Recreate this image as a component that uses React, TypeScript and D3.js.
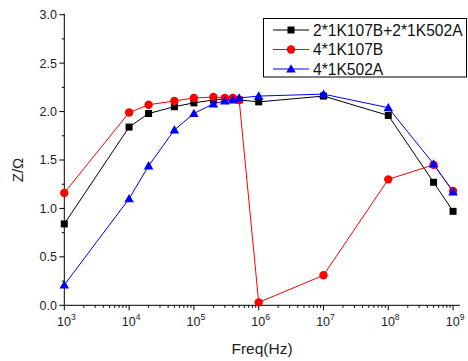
import React from 'react';
import * as d3 from 'd3';

// Frequencies (Hz) shared by all three series
const freqs = [1e3, 1e4, 2e4, 5e4, 1e5, 2e5, 3e5, 4e5, 5e5, 1e6, 1e7, 1e8, 5e8, 1e9];

// Z/Ω values per series
const mixedVals = [0.84, 1.84, 1.98, 2.05, 2.09, 2.12, 2.13, 2.13, 2.12, 2.10, 2.16, 1.96, 1.27, 0.97];
const k107bVals = [1.16, 1.99, 2.07, 2.11, 2.14, 2.15, 2.14, 2.14, 2.12, 0.03, 0.31, 1.30, 1.45, 1.18];
const k502aVals = [0.21, 1.10, 1.44, 1.81, 1.98, 2.08, 2.11, 2.12, 2.14, 2.16, 2.18, 2.04, 1.46, 1.17];

const seriesNames = ['2*1K107B+2*1K502A', '4*1K107B', '4*1K502A'];
const seriesColors = ['#000000', '#ff0000', '#0000ff'];
const seriesShapes = ['square', 'circle', 'triangle'];

const yTicks = [0, 0.5, 1.0, 1.5, 2.0, 2.5, 3.0];
const xExponents = [3, 4, 5, 6, 7, 8, 9];

const W = 468;
const H = 361;
const FONT = '"Liberation Sans", Arial, sans-serif';

const Marker = ({ shape, x, y, color }: { shape: string; x: number; y: number; color: string }) => {
  if (shape === 'square') return <rect x={x - 3.5} y={y - 3.5} width={7} height={7} fill={color} />;
  if (shape === 'circle') return <circle cx={x} cy={y} r={4.2} fill={color} />;
  const tri = d3.symbol().type(d3.symbolTriangle).size(40)();
  return <path d={tri || ''} transform={`translate(${x},${y + 0.8})`} fill={color} />;
};

export default function App() {
  const x = d3.scaleLog().domain([1e3, Math.pow(10, 9.107)]).range([64.3, 460]);
  const y = d3.scaleLinear().domain([0, 3]).range([305.3, 14.7]);

  const series = [mixedVals, k107bVals, k502aVals];
  const line = d3.line<number>()
    .x((_, i) => x(freqs[i]))
    .y(d => y(d));

  const minorX: number[] = [];
  for (let e = 3; e < 9; e++) {
    for (let m = 2; m <= 9; m++) minorX.push(m * Math.pow(10, e));
  }
  const minorY = d3.range(0.25, 3, 0.5);

  const axisY = y(0);
  const axisX = x(1e3);

  return (
    <svg width={W} height={H} style={{ position: 'absolute', left: 0, top: 0, background: '#fff' }} fontFamily={FONT}>
      {/* axes */}
      <line x1={axisX} x2={axisX} y1={y(3) - 1} y2={axisY} stroke="#000" strokeWidth={1} />
      <line x1={axisX} x2={460} y1={axisY} y2={axisY} stroke="#000" strokeWidth={1} />

      {yTicks.map(t => (
        <g key={'y' + t}>
          <line x1={axisX - 5} x2={axisX} y1={y(t)} y2={y(t)} stroke="#000" />
          <text x={57} y={y(t)} dy="0.35em" textAnchor="end" fontSize={12.5} fill="#222">{t.toFixed(1)}</text>
        </g>
      ))}
      {minorY.map(t => (
        <line key={'my' + t} x1={axisX - 2.5} x2={axisX} y1={y(t)} y2={y(t)} stroke="#000" />
      ))}

      {xExponents.map(e => {
        const px = x(Math.pow(10, e));
        return (
          <g key={'x' + e}>
            <line x1={px} x2={px} y1={axisY} y2={axisY + 5} stroke="#000" />
            <text x={px + 2} y={326} textAnchor="middle" fontSize={12.5} fill="#222">
              10<tspan fontSize={8.5} dy={-6}>{e}</tspan>
            </text>
          </g>
        );
      })}
      {minorX.map(v => (
        <line key={'mx' + v} x1={x(v)} x2={x(v)} y1={axisY} y2={axisY + 2.5} stroke="#000" />
      ))}

      {/* axis titles */}
      <text x={262} y={354} textAnchor="middle" fontSize={15.5} fill="#222">Freq(Hz)</text>
      <text transform={`translate(23,170) rotate(-90)`} textAnchor="middle" fontSize={15} fill="#222">Z/Ω</text>

      {/* series */}
      {series.map((vals, si) => (
        <g key={'s' + si}>
          <path d={line(vals) || ''} fill="none" stroke={seriesColors[si]} strokeWidth={1} />
          {vals.map((v, i) => (
            <Marker key={i} shape={seriesShapes[si]} x={x(freqs[i])} y={y(v)} color={seriesColors[si]} />
          ))}
        </g>
      ))}

      {/* legend */}
      <rect x={263.5} y={18.5} width={203} height={58.5} fill="#fff" stroke="#000" strokeWidth={1} />
      {seriesNames.map((name, i) => {
        const ly = 30 + i * 19.5;
        return (
          <g key={'l' + i}>
            <line x1={273} x2={309} y1={ly} y2={ly} stroke={seriesColors[i]} strokeWidth={1} />
            <Marker shape={seriesShapes[i]} x={291} y={ly} color={seriesColors[i]} />
            <text x={313} y={ly} dy="0.36em" fontSize={15.6} fill="#111">{name}</text>
          </g>
        );
      })}
    </svg>
  );
}
